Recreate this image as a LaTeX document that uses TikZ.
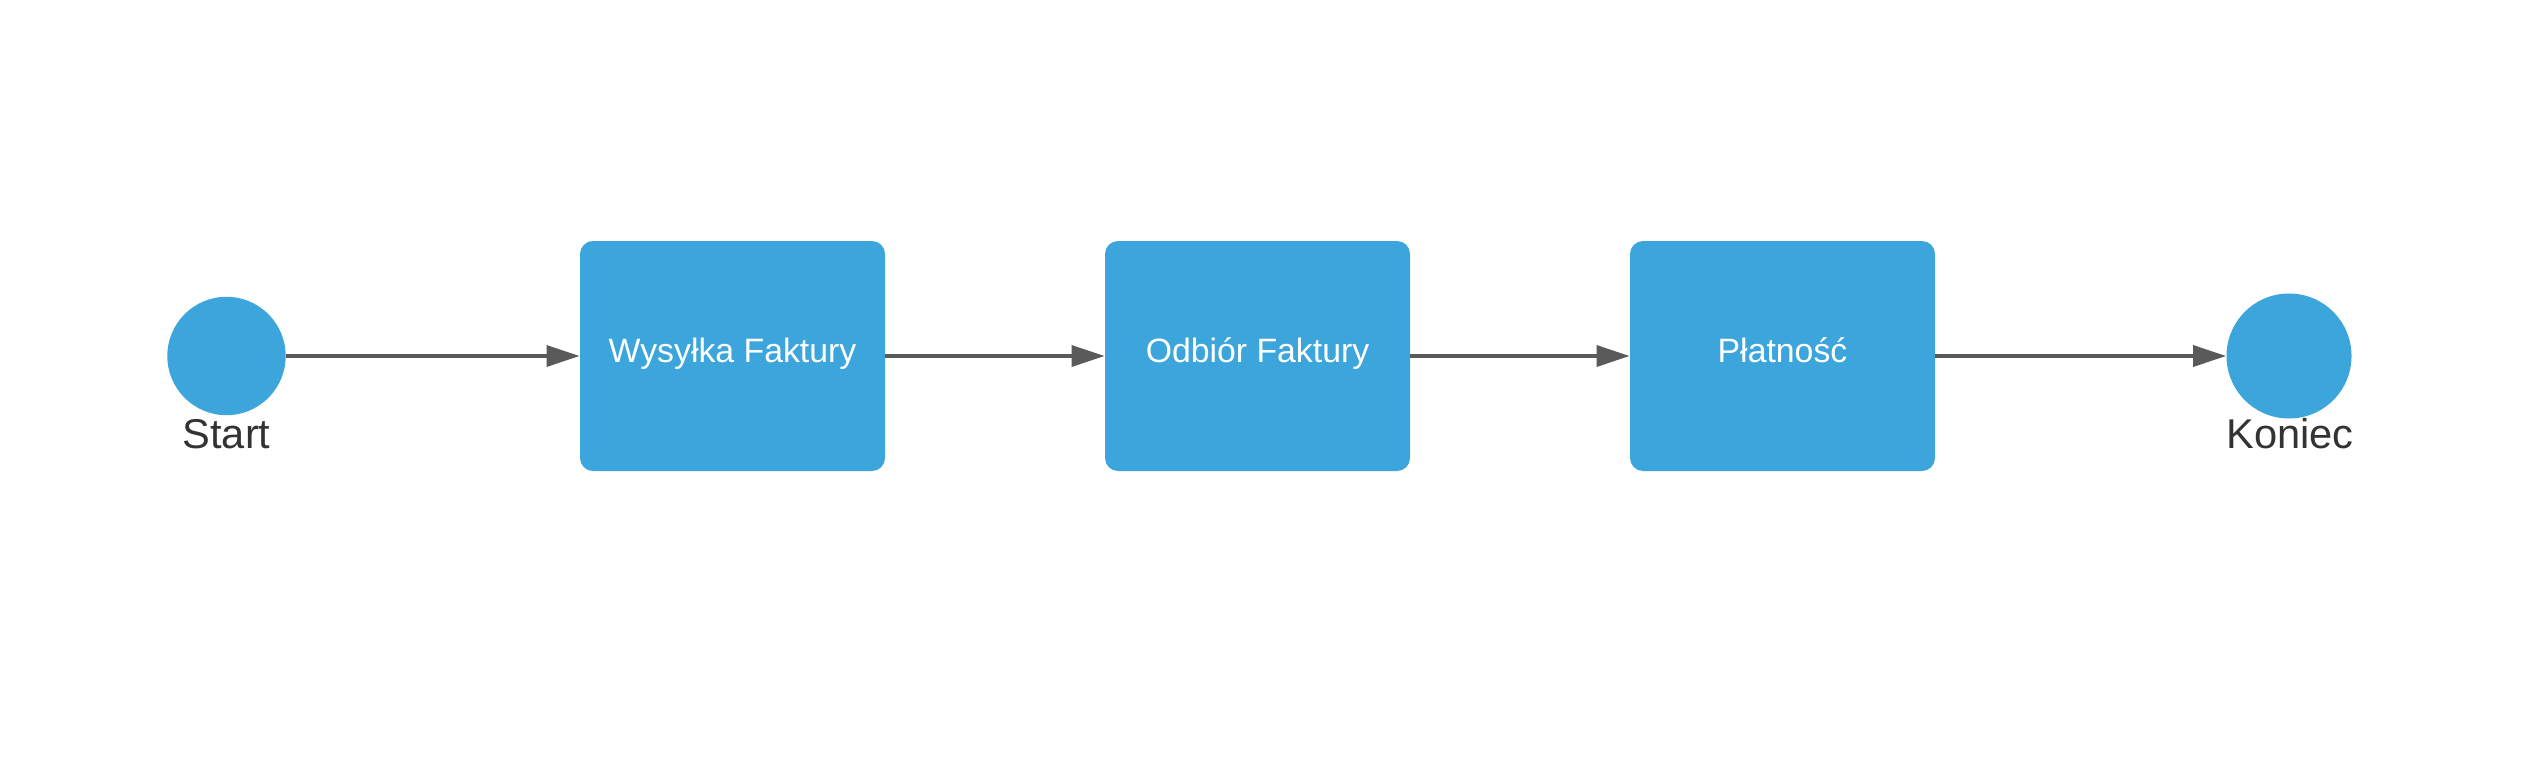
\documentclass[tikz,border=0pt]{standalone}
\usepackage{fontspec}
\setmainfont{Liberation Sans}
\usetikzlibrary{arrows.meta}
\definecolor{boxblue}{HTML}{3CA5DC}
\definecolor{linegray}{HTML}{5A5A5A}
\definecolor{labelgray}{HTML}{333333}
\begin{document}
\begin{tikzpicture}[x=0.5pt,y=-0.5pt,
  taskbox/.style={rectangle, fill=boxblue, draw=none, rounded corners=6.5pt,
    minimum width=152.5pt, minimum height=115pt, inner sep=0pt,
    text=white, font=\fontsize{16.9pt}{19pt}\selectfont,
    text height=10pt, text depth=4pt},
  event/.style={circle, fill=boxblue, draw=none, inner sep=0pt},
  evlabel/.style={anchor=base, text=labelgray, font=\fontsize{20.8pt}{24pt}\selectfont, inner sep=0pt},
  flow/.style={draw=linegray, line width=1.65pt, -{Triangle[length=16.5pt,width=10.5pt]}}]
\useasboundingbox (0,0) rectangle (2526,771);
\fill[white] (0,0) rectangle (2526,771);
\node[event, minimum size=59.2pt] (start) at (226.5,356) {};
\node[event, minimum size=62.5pt] (end) at (2289,356) {};
\node[taskbox] (t1) at (732.5,356) {Wysyłka Faktury};
\node[taskbox] (t2) at (1257.5,356) {Odbiór Faktury};
\node[taskbox] (t3) at (1782.5,356) {Płatność};
\node[evlabel] (lstart) at (226.5,448.3) {Start};
\node[evlabel] (lend) at (2290,448.3) {Koniec};
\draw[flow] (start) -- (t1);
\draw[flow] (t1) -- (t2);
\draw[flow] (t2) -- (t3);
\draw[flow] (t3) -- (end);
\end{tikzpicture}
\end{document}
